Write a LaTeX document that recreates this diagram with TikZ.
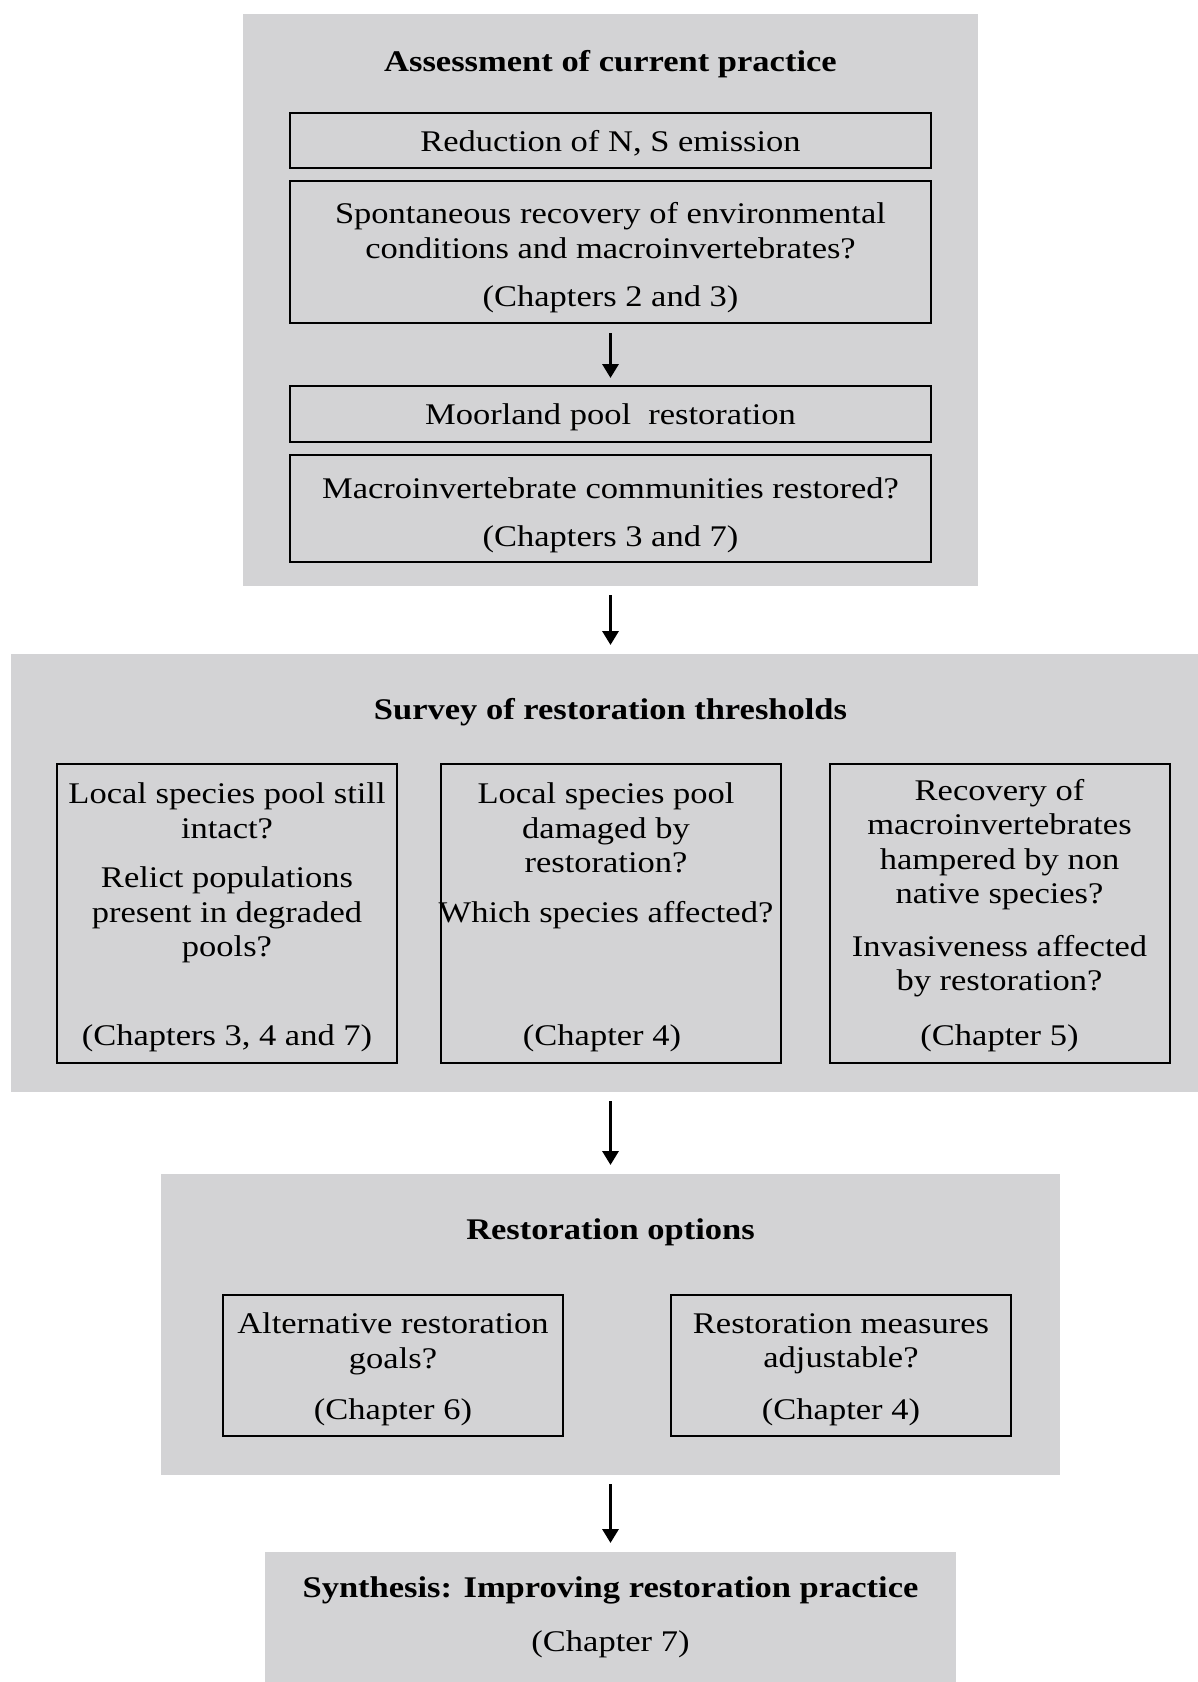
\documentclass[tikz,border=0pt]{standalone}
\usepackage{fontspec}
\setmainfont{Liberation Serif}[FakeStretch=1.15]
\usetikzlibrary{arrows.meta,positioning}
\definecolor{panelgray}{RGB}{211,211,213}

\begin{document}
\begin{tikzpicture}[x=0.5pt,y=-0.5pt,
	font=\fontsize{15}{17.25}\selectfont,
	panel/.style={fill=panelgray,inner sep=0pt,outer sep=0pt},
	qbox/.style={draw=black,line width=1pt,inner sep=0pt},
	txt/.style={align=center,inner sep=0pt,yshift=-1.6pt},
	head/.style={txt,font=\fontsize{15}{17.25}\selectfont\bfseries},
	flow/.style={-{Triangle[length=7pt,width=8pt]},line width=1.6pt,shorten <=4.5pt,shorten >=4.5pt}]
	\useasboundingbox (0,0) rectangle (1198,1682);
	% grey panels
	\node[panel,minimum width=367.5pt,minimum height=286pt] (assess) at (610.5,300) {};
	\node[panel,minimum width=593.5pt,minimum height=219pt] (survey) at (604.5,873) {};
	\node[panel,minimum width=449.5pt,minimum height=150.5pt] (options) at (610.5,1324.5) {};
	\node[panel,minimum width=345.5pt,minimum height=65pt] (synth) at (610.5,1617) {};
	\draw[flow] (assess.south) -- (assess.south |- survey.north);
	\draw[flow] (assess.south |- survey.south) -- (options.north);
	\draw[flow] (options.south) -- (synth.north);
	% current practice
	\node[head] (assesstitle) at (610.5,61) {Assessment of current practice};
	\node[qbox,minimum width=320.5pt,minimum height=27.5pt] (emission) at (610.5,140.5) {};
	\node[txt] (emissiontxt) at (emission) {Reduction of N, S emission};
	\node[qbox,minimum width=320.5pt,minimum height=71pt] (spont) at (610.5,252) {};
	\node[txt] (spontq) at (610.5,227.5) {Spontaneous recovery of environmental\\conditions and macroinvertebrates?};
	\node[txt] (spontch) at (610.5,296) {(Chapters 2 and 3)};
	\node[qbox,minimum width=320.5pt,minimum height=28pt] (moorland) at (610.5,414) {};
	\node[txt] (moorlandtxt) at (moorland) {Moorland pool\ \ restoration};
	\node[qbox,minimum width=320.5pt,minimum height=53.5pt] (macro) at (610.5,508.5) {};
	\node[txt] (macroq) at (610.5,485) {Macroinvertebrate communities restored?};
	\node[txt] (macroch) at (610.5,536) {(Chapters 3 and 7)};
	\draw[flow,shorten <=4.5pt,shorten >=3.5pt] (spont.south) -- (moorland.north);
	% thresholds
	\node[head] (surveytitle) at (610.5,709) {Survey of restoration thresholds};
	\foreach \n/\x in {thrA/227,thrB/610.5,thrC/999.5}
	\node[qbox,minimum width=170pt,minimum height=149.5pt] (\n) at (\x,913.5) {};
	\node[txt] (poolq) at (thrA |- 0,807.5) {Local species pool still\\intact?};
	\node[txt] (relictq) at (thrA |- 0,912) {Relict populations\\present in degraded\\pools?};
	\node[txt] (poolch) at (thrA |- 0,1035) {(Chapters 3, 4 and 7)};
	\node[txt] (damageq) at (606,825) {Local species pool\\damaged by\\restoration?};
	\node[txt] (whichq) at (606,912) {Which species affected?};
	\node[txt] (damagech) at (602,1035) {(Chapter 4)};
	\node[txt] (nativeq) at (thrC |- 0,841.5) {Recovery of\\macroinvertebrates\\hampered by non\\native species?};
	\node[txt] (invasq) at (thrC |- 0,963) {Invasiveness affected\\by restoration?};
	\node[txt] (nativech) at (thrC |- 0,1035) {(Chapter 5)};
	% options
	\node[head] (optionstitle) at (610.5,1229) {Restoration options};
	\foreach \n/\x in {optA/393,optB/841}
	\node[qbox,minimum width=170pt,minimum height=70.5pt] (\n) at (\x,1365.5) {};
	\node[txt] (goalq) at (optA |- 0,1340.5) {Alternative restoration\\goals?};
	\node[txt] (goalch) at (optA |- 0,1409) {(Chapter 6)};
	\node[txt] (measureq) at (optB |- 0,1340.5) {Restoration measures\\adjustable?};
	\node[txt] (measurech) at (optB |- 0,1409) {(Chapter 4)};
	% synthesis
	\node[head] (synthtitle) at (610.5,1587) {Synthesis: Improving restoration practice};
	\node[txt] (synthch) at (610.5,1641) {(Chapter 7)};
\end{tikzpicture}
\end{document}
